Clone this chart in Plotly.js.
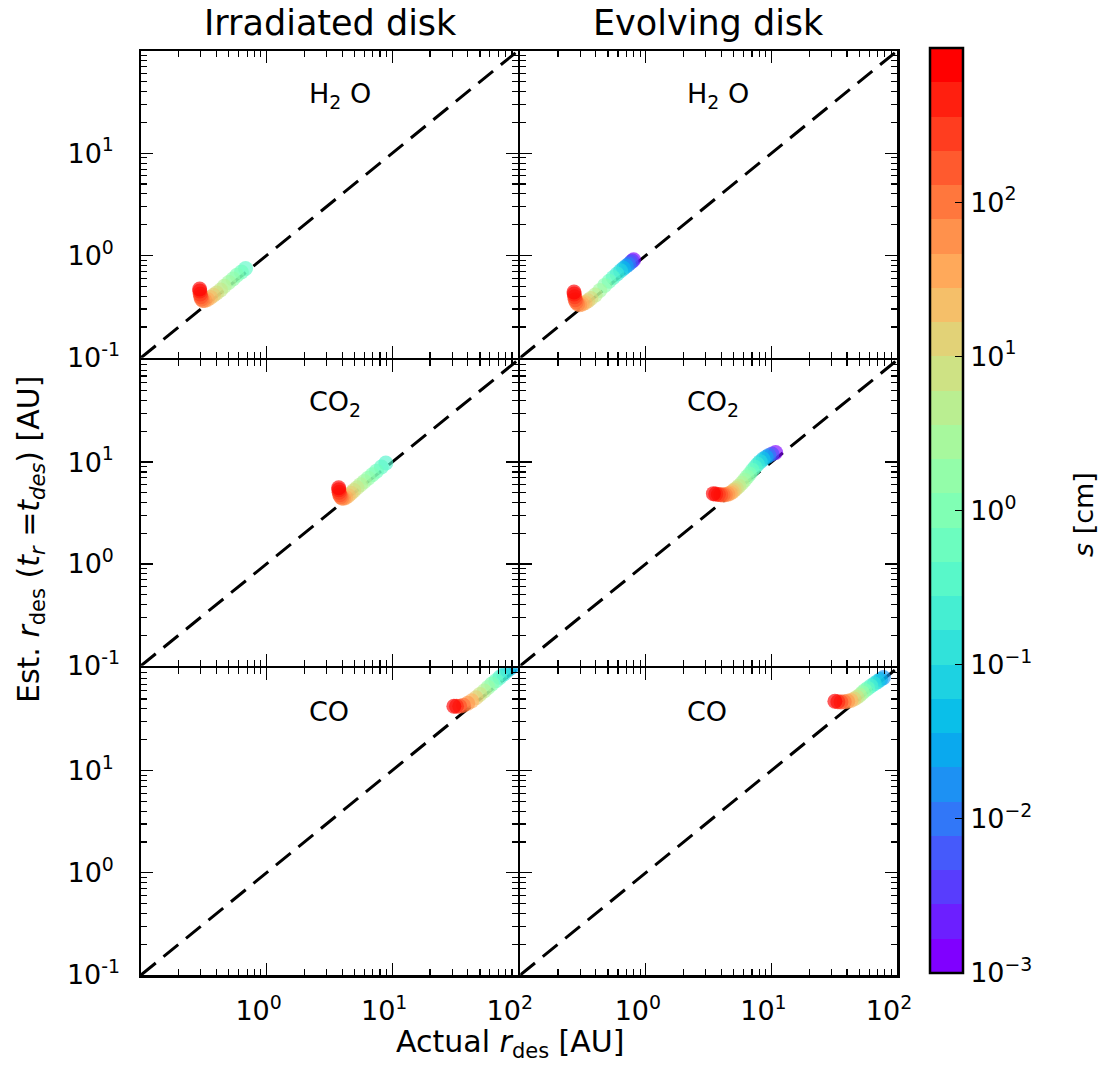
<!DOCTYPE html>
<html><head><meta charset="utf-8">
<script src="https://cdn.plot.ly/plotly-3.0.1.min.js"></script>
<style>body{margin:0;background:#fff}</style>
</head><body><div id="chart" style="width:1106px;height:1068px"></div>
<script>
// ---------- data ----------
const diagX = [0.1, 100];
const diagY = [0.1, 100];

const colTitles = ['Irradiated disk', 'Evolving disk'];
const speciesLabels = ['H<sub>2</sub> O', 'CO<sub>2</sub>', 'CO'];

const xTickVals = [0.1, 1, 10, 100];
const xTickText = ['', '10<sup>0</sup>', '10<sup>1</sup>', '10<sup>2</sup>'];
const yTickVals = [0.1, 1, 10, 100];
const yTickText = ['10<sup>-1</sup>', '10<sup>0\u2004</sup>', '10<sup>1\u2004</sup>', ''];
const minorTickVals = [0.2,0.3,0.4,0.5,0.6,0.7,0.8,0.9,2,3,4,5,6,7,8,9,20,30,40,50,60,70,80,90];

const cbTickVals = [-3, -2, -1, 0, 1, 2];
const cbTickText = ['10<sup>\u22123</sup>', '10<sup>\u22122</sup>', '10<sup>\u22121</sup>', '10<sup>0</sup>', '10<sup>1</sup>', '10<sup>2</sup>'];

// H2O, irradiated disk
const h2oIrrLogS   = [3.0, 2.8, 2.6, 2.4, 2.2, 2.0, 1.8, 1.6, 1.4, 1.2, 1.0, 0.8, 0.6, 0.4, 0.2, 0.0, -0.2, -0.4];
const h2oIrrActual = [0.293, 0.294, 0.296, 0.299, 0.303, 0.31, 0.322, 0.338, 0.358, 0.378, 0.40, 0.43, 0.46, 0.50, 0.54, 0.58, 0.63, 0.68];
const h2oIrrEst    = [0.47, 0.45, 0.42, 0.395, 0.375, 0.364, 0.364, 0.372, 0.388, 0.408, 0.43, 0.46, 0.50, 0.545, 0.59, 0.64, 0.69, 0.745];

// H2O, evolving disk
const h2oEvoLogS   = [3.0, 2.8, 2.6, 2.4, 2.2, 2.0, 1.8, 1.6, 1.4, 1.2, 1.0, 0.7, 0.4, 0.1, -0.2, -0.5, -0.8, -1.1, -1.4, -1.7, -2.0, -2.3, -2.6, -3.0];
const h2oEvoActual = [0.268, 0.269, 0.271, 0.274, 0.279, 0.287, 0.298, 0.312, 0.328, 0.345, 0.365, 0.395, 0.43, 0.47, 0.51, 0.55, 0.59, 0.63, 0.665, 0.70, 0.73, 0.76, 0.78, 0.80];
const h2oEvoEst    = [0.44, 0.42, 0.395, 0.37, 0.35, 0.335, 0.33, 0.335, 0.345, 0.36, 0.38, 0.41, 0.455, 0.51, 0.56, 0.61, 0.66, 0.71, 0.75, 0.79, 0.82, 0.86, 0.885, 0.91];

// CO2, irradiated disk
const co2IrrLogS   = [3.0, 2.8, 2.6, 2.4, 2.2, 2.0, 1.8, 1.6, 1.4, 1.2, 1.0, 0.8, 0.6, 0.4, 0.2, 0.0, -0.2, -0.4, -0.55];
const co2IrrActual = [3.75, 3.76, 3.78, 3.82, 3.88, 3.97, 4.1, 4.27, 4.47, 4.7, 4.95, 5.25, 5.6, 6.0, 6.45, 6.95, 7.5, 8.2, 8.9];
const co2IrrEst    = [5.6, 5.35, 5.05, 4.78, 4.58, 4.45, 4.42, 4.5, 4.68, 4.95, 5.25, 5.6, 6.0, 6.45, 6.95, 7.5, 8.15, 8.95, 9.8];

// CO2, evolving disk
const co2EvoLogS   = [3.0, 2.8, 2.6, 2.4, 2.2, 2.0, 1.8, 1.6, 1.4, 1.2, 1.0, 0.8, 0.6, 0.4, 0.2, 0.0, -0.25, -0.5, -0.75, -1.0, -1.3, -1.6, -2.0, -2.4, -3.0];
const co2EvoActual = [3.45, 3.6, 3.78, 3.95, 4.12, 4.3, 4.5, 4.7, 4.88, 5.05, 5.25, 5.5, 5.8, 6.1, 6.4, 6.7, 7.05, 7.4, 7.75, 8.15, 8.6, 9.1, 9.55, 10.1, 10.8];
const co2EvoEst    = [4.9, 4.85, 4.8, 4.77, 4.76, 4.78, 4.85, 4.95, 5.1, 5.3, 5.5, 5.8, 6.2, 6.65, 7.15, 7.65, 8.3, 8.9, 9.5, 10.1, 10.7, 11.2, 11.6, 12.0, 12.4];

// CO, irradiated disk
const coIrrLogS   = [3.0, 2.7, 2.4, 2.1, 1.8, 1.5, 1.2, 0.9, 0.6, 0.3, 0.0, -0.3, -0.6, -0.9, -1.2, -1.5, -1.8];
const coIrrActual = [31, 32.5, 34.5, 37, 40, 43, 46.5, 50, 54, 58, 62, 67, 72, 77.5, 83, 89, 95];
const coIrrEst    = [42.5, 42.5, 42.5, 43.5, 45.5, 48, 51.5, 55.5, 60, 65, 70, 75.5, 81.5, 88, 95, 102, 109];

// CO, evolving disk
const coEvoLogS   = [3.0, 2.7, 2.4, 2.1, 1.8, 1.5, 1.2, 0.9, 0.6, 0.3, 0.0, -0.3, -0.6, -0.9, -1.2, -1.5, -1.8];
const coEvoActual = [32, 33.8, 35.8, 38, 40.5, 43, 45.5, 48, 50.5, 53, 55.5, 58.5, 62, 66, 70, 74, 78];
const coEvoEst    = [47.5, 47, 46.8, 47, 47.5, 48.5, 50, 52, 54.5, 57.5, 60.5, 63.5, 67, 70.5, 74, 77.5, 81];

// ---------- drawing ----------
function rainbow(t) {
  const r = Math.min(1, Math.abs(2 * t - 0.5));
  const g = Math.sin(Math.PI * t);
  const b = Math.cos(Math.PI * t / 2);
  const f = v => Math.round(Math.max(0, Math.min(1, v)) * 255);
  return 'rgb(' + f(r) + ',' + f(g) + ',' + f(b) + ')';
}
const smoothScale = [];
for (let i = 0; i <= 20; i++) smoothScale.push([i / 20, rainbow(i / 20)]);
const NB = 27;
const bandScale = [];
for (let i = 0; i < NB; i++) {
  const c = rainbow(i / (NB - 1));
  bandScale.push([i / NB, c]);
  bandScale.push([(i + 1) / NB, c]);
}

const panels = [
  [h2oIrrActual, h2oIrrEst, h2oIrrLogS],
  [h2oEvoActual, h2oEvoEst, h2oEvoLogS],
  [co2IrrActual, co2IrrEst, co2IrrLogS],
  [co2EvoActual, co2EvoEst, co2EvoLogS],
  [coIrrActual, coIrrEst, coIrrLogS],
  [coEvoActual, coEvoEst, coEvoLogS]
];

const FONT = 'DejaVu Sans, sans-serif';
const W = 1106, H = 1068;
const mL = 141, mR = 209, mT = 51, mB = 93;
const pw = W - mL - mR, ph = H - mT - mB;
const px2x = p => (p - mL) / pw;
const py2y = p => (H - mB - p) / ph;
const LW = 2.5;
const gx = LW / pw, gy = LW / ph;
const colDomains = [[0, 0.5 - gx / 2], [0.5 + gx / 2, 1]];
const rowDomains = [[2 / 3 + gy / 2, 1], [1 / 3 + gy / 2, 2 / 3 - gy / 2], [0, 1 / 3 - gy / 2]];

const traces = [];
const layout = {
  width: W, height: H,
  margin: {l: mL, r: mR, t: mT, b: mB, pad: 0},
  paper_bgcolor: 'white', plot_bgcolor: 'white',
  showlegend: false,
  font: {family: FONT, color: 'black'},
  annotations: []
};

panels.forEach((p, i) => {
  const s = i === 0 ? '' : String(i + 1);
  const col = i % 2, row = Math.floor(i / 2);
  traces.push({
    type: 'scatter', mode: 'lines', x: diagX, y: diagY,
    xaxis: 'x' + s, yaxis: 'y' + s,
    line: {color: 'black', width: 3, dash: '19px,10px'},
    hoverinfo: 'skip'
  });
  traces.push({
    type: 'scatter', mode: 'markers',
    x: p[0].slice().reverse(), y: p[1].slice().reverse(),
    xaxis: 'x' + s, yaxis: 'y' + s,
    marker: {size: 15, color: p[2].slice().reverse(), colorscale: smoothScale,
             cmin: -3, cmax: 3, opacity: 0.65, line: {width: 0}, showscale: false},
    hoverinfo: 'skip'
  });
  const common = {
    type: 'log', range: [-1, 2], showline: true, linecolor: 'black', linewidth: LW,
    mirror: 'allticks', ticks: 'inside', ticklen: 12, tickwidth: 1.3, tickcolor: 'black',
    showgrid: false, zeroline: false, tickmode: 'array',
    tickfont: {family: FONT, size: 27, color: 'black'},
    minor: {ticks: 'inside', ticklen: 6, tickwidth: 1.1, tickcolor: 'black',
            tickmode: 'array', tickvals: minorTickVals, showgrid: false}
  };
  layout['xaxis' + s] = Object.assign({}, common, {
    domain: colDomains[col], anchor: 'y' + s,
    tickvals: xTickVals, ticktext: xTickText,
    showticklabels: row === 2, ticklabelstandoff: 10, ticklabelshift: -8
  });
  layout['yaxis' + s] = Object.assign({}, common, {
    domain: rowDomains[row], anchor: 'x' + s,
    tickvals: yTickVals, ticktext: yTickText,
    showticklabels: col === 0, ticklabelstandoff: 13
  });
  layout.annotations.push({
    xref: 'paper', yref: 'paper', x: px2x(col === 0 ? 307 : 685), y: py2y(95 + row * 308),
    xanchor: 'left', yanchor: 'middle', showarrow: false,
    text: speciesLabels[row], font: {family: FONT, size: 27, color: 'black'}
  });
});

// colorbar carrier
traces.push({
  type: 'scatter', mode: 'markers', x: [0.01], y: [0.01], xaxis: 'x', yaxis: 'y',
  hoverinfo: 'skip',
  marker: {size: 1, opacity: 0, color: [0], colorscale: bandScale, cmin: -3, cmax: 3,
    showscale: true,
    colorbar: {
      x: px2x(930), xanchor: 'left', y: py2y(48), yanchor: 'top',
      len: 925, lenmode: 'pixels', thickness: 33, thicknessmode: 'pixels',
      xpad: 0, ypad: 0, outlinewidth: 2.5, outlinecolor: 'black', borderwidth: 0,
      tickmode: 'array', tickvals: cbTickVals, ticktext: cbTickText,
      ticks: 'inside', ticklen: 9, tickwidth: 1.2, tickcolor: 'black',
      tickfont: {family: FONT, size: 27, color: 'black'}
    }}
});

colTitles.forEach((t, c) => {
  layout.annotations.push({
    xref: 'paper', yref: 'paper', x: 0.25 + 0.5 * c, y: py2y(23),
    xanchor: 'center', yanchor: 'middle', showarrow: false,
    text: t, font: {family: FONT, size: 35, color: 'black'}
  });
});
layout.annotations.push({
  xref: 'paper', yref: 'paper', x: px2x(510), y: py2y(1043),
  xanchor: 'center', yanchor: 'middle', showarrow: false,
  text: 'Actual <i>r</i><sub>des</sub> [AU]', font: {family: FONT, size: 30, color: 'black'}
});
layout.annotations.push({
  xref: 'paper', yref: 'paper', x: px2x(30), y: py2y(540),
  xanchor: 'center', yanchor: 'middle', showarrow: false, textangle: -90,
  text: 'Est. <i>r</i><sub>des</sub> (<i>t<sub>r</sub></i> =<i>t<sub>des</sub></i>) [AU]',
  font: {family: FONT, size: 30, color: 'black'}
});
layout.annotations.push({
  xref: 'paper', yref: 'paper', x: px2x(1083), y: py2y(515),
  xanchor: 'center', yanchor: 'middle', showarrow: false, textangle: -90,
  text: '<i>s</i> [cm]', font: {family: FONT, size: 27, color: 'black'}
});

Plotly.newPlot('chart', traces, layout, {displayModeBar: false, staticPlot: true});
</script>
</body></html>
